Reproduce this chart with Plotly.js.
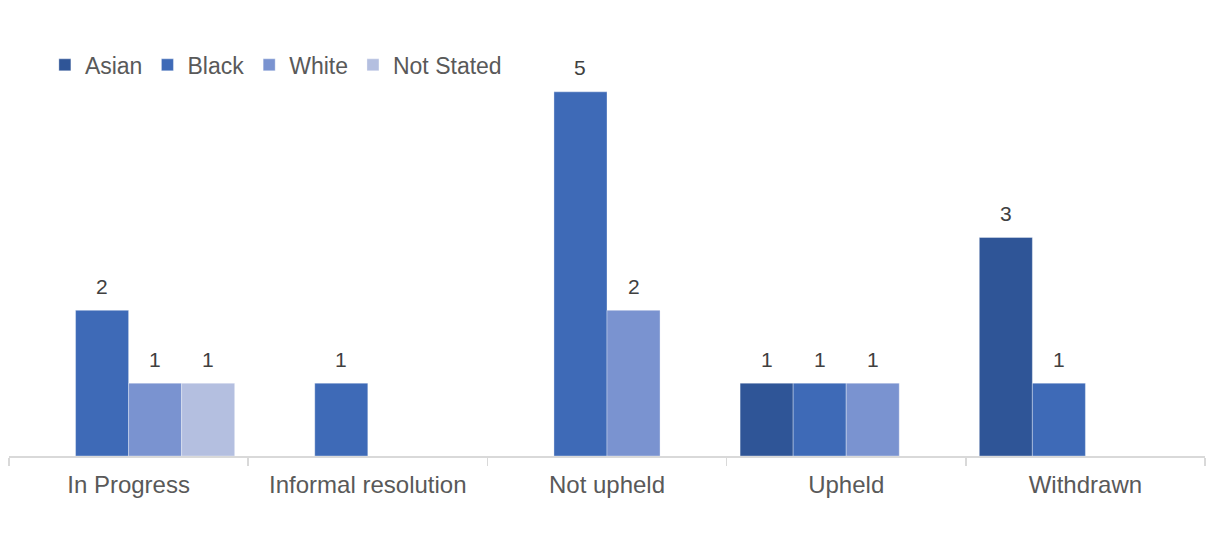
<!DOCTYPE html>
<html>
<head>
<meta charset="utf-8">
<script src="https://cdn.plot.ly/plotly-3.0.1.min.js"></script>
<style>html,body{margin:0;padding:0;background:#fff;}#chart{width:1216px;height:542px;}</style>
</head>
<body>
<div id="chart"></div>
<script>
const categories = ["In Progress", "Informal resolution", "Not upheld", "Upheld", "Withdrawn"];
const seriesNames = ["Asian", "Black", "White", "Not Stated"];
const asian = [null, null, null, 1, 3];
const black = [2, 1, 5, 1, 1];
const white = [1, null, 2, 1, null];
const notStated = [1, null, null, null, null];
const colors = ["#2F5597", "#3E6AB7", "#7A93D0", "#B4BFE0"];

const allSeries = [asian, black, white, notStated];
const bargap = 0.113;
const barW = (1 - bargap) / allSeries.length;
const FONT = "Liberation Sans, Arial, sans-serif";

const traces = allSeries.map((vals, i) => ({
  type: "bar",
  name: seriesNames[i],
  x: categories,
  y: vals,
  marker: { color: colors[i], line: { color: "rgba(255,255,255,0.45)", width: 0.75 } },
  hoverinfo: "skip"
}));

const annotations = [];
allSeries.forEach((vals, i) => {
  vals.forEach((v, j) => {
    if (v === null) return;
    annotations.push({
      xref: "x", yref: "y",
      x: j + (i - (allSeries.length - 1) / 2) * barW,
      y: v,
      text: String(v),
      showarrow: false,
      yanchor: "middle",
      yshift: 24,
      font: { family: FONT, size: 21, color: "#404040" }
    });
  });
});

const layout = {
  width: 1216,
  height: 542,
  margin: { l: 9, r: 11, t: 19, b: 86 },
  paper_bgcolor: "#ffffff",
  plot_bgcolor: "#ffffff",
  barmode: "group",
  bargap: bargap,
  bargroupgap: 0,
  font: { family: FONT, color: "#595959" },
  xaxis: {
    type: "category",
    showline: true,
    linecolor: "#D9D9D9",
    linewidth: 1.5,
    ticks: "outside",
    tickson: "boundaries",
    ticklen: 8,
    tickwidth: 1.5,
    tickcolor: "#D9D9D9",
    ticklabelstandoff: 7,
    showgrid: false,
    zeroline: false,
    tickfont: { family: FONT, size: 24, color: "#595959" }
  },
  yaxis: {
    range: [0, 6],
    showgrid: false,
    zeroline: false,
    showline: false,
    showticklabels: false,
    ticks: ""
  },
  showlegend: true,
  legend: {
    orientation: "h",
    x: 0.03,
    y: 0.895,
    xanchor: "left",
    yanchor: "middle",
    font: { family: FONT, size: 23, color: "#595959" },
    bgcolor: "rgba(0,0,0,0)"
  },
  annotations: annotations
};

Plotly.newPlot("chart", traces, layout, { displayModeBar: false, staticPlot: true });
</script>
</body>
</html>
